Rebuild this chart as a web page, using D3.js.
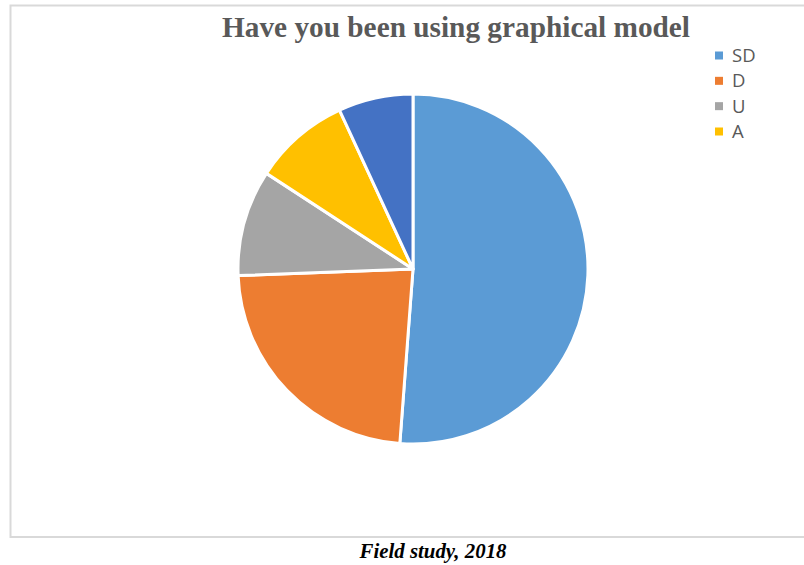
<!DOCTYPE html>
<html>
<head>
<meta charset="utf-8">
<script src="https://cdn.jsdelivr.net/npm/d3@7"></script>
<style>
  body { margin: 0; background: #fff; }
  svg { display: block; }
</style>
</head>
<body>
<svg id="chart" width="804" height="565"></svg>
<script>
// answers to "Have you been using graphical model" (percent of respondents)
var categories = ["SD", "D", "U", "A", "SA"];
var shares = [51.2, 23.2, 9.8, 8.9, 6.9];
var colours = ["#5B9BD5", "#ED7D31", "#A5A5A5", "#FFC000", "#4472C4"];
// only the first four show up in the legend of the original
var legendItems = categories.slice(0, 4);

var svg = d3.select("#chart");

// frame of the chart area (runs off the right side)
svg.append("rect")
    .attr("x", 10.5).attr("y", 5.5)
    .attr("width", 810).attr("height", 531.5)
    .style("fill", "none")
    .style("stroke", "#d9d9d9")
    .style("stroke-width", 2);

// title
svg.append("text")
    .attr("x", 456).attr("y", 37)
    .style("text-anchor", "middle")
    .style("font-family", "'Liberation Serif', 'Times New Roman', serif")
    .style("font-weight", "bold")
    .style("font-size", "29px")
    .style("fill", "#595959")
    .attr("textLength", 468)
    .attr("lengthAdjust", "spacingAndGlyphs")
    .text("Have you been using graphical model");

// pie
var cx = 413, cy = 269, radius = 175;
var colour = d3.scaleOrdinal().domain(categories).range(colours);

var pie = d3.pie().sort(null).value(function(d){ return d.value; });
var arc = d3.arc().innerRadius(0).outerRadius(radius);

var data = categories.map(function(c, i){ return {key: c, value: shares[i]}; });

var g = svg.append("g").attr("transform", "translate(" + cx + "," + cy + ")");
g.selectAll("path")
    .data(pie(data))
    .enter().append("path")
    .attr("d", arc)
    .style("fill", function(d){ return colour(d.data.key); })
    .style("stroke", "#fff")
    .style("stroke-width", 3)
    .style("stroke-linejoin", "round");

// legend
var legendY = d3.scalePoint().domain(legendItems).range([55.5, 131.5]);
var legend = svg.append("g").selectAll("g")
    .data(legendItems)
    .enter().append("g")
    .attr("transform", function(d){ return "translate(715," + legendY(d) + ")"; });

legend.append("rect")
    .attr("x", 0).attr("y", -4)
    .attr("width", 8).attr("height", 8)
    .style("fill", function(d){ return colour(d); });

legend.append("text")
    .attr("x", 17).attr("y", 0)
    .attr("dy", "0.35em")
    .style("font-family", "'Open Sans', 'Noto Sans', sans-serif")
    .style("font-size", "18.5px")
    .style("fill", "#595959")
    .text(function(d){ return d; });

// source note under the frame
svg.append("text")
    .attr("x", 433).attr("y", 558)
    .style("text-anchor", "middle")
    .style("font-family", "'Liberation Serif', 'Times New Roman', serif")
    .style("font-weight", "bold")
    .style("font-style", "italic")
    .style("font-size", "21px")
    .attr("textLength", 147)
    .attr("lengthAdjust", "spacingAndGlyphs")
    .text("Field study, 2018");
</script>
</body>
</html>
